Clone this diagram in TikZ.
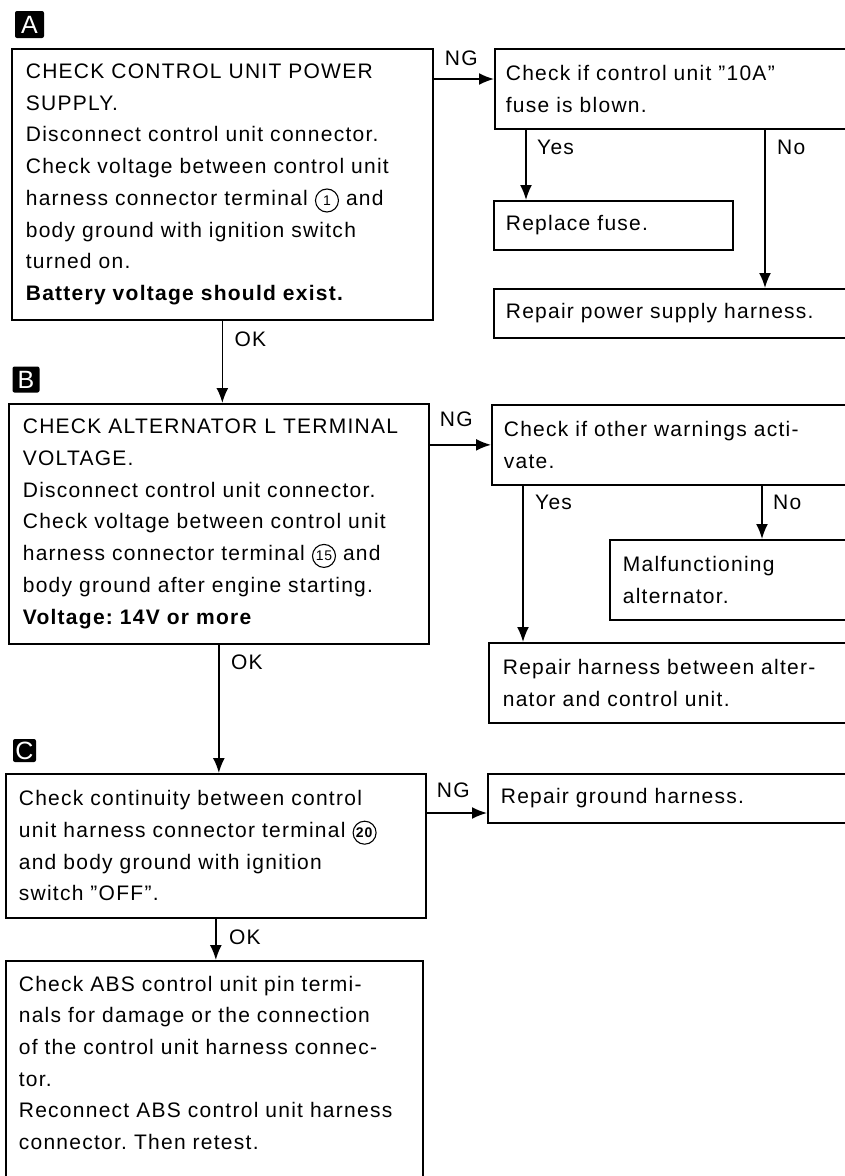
\documentclass[tikz,border=0pt]{standalone}
\usepackage{fontspec}
\setmainfont{Liberation Sans}[LetterSpace=6]
\usepackage{tikz}
\usetikzlibrary{calc, positioning, arrows.meta}

\tikzset{
  box/.style={draw, line width=1.7pt, anchor=north west, align=left, inner xsep=12pt, inner ysep=0pt},
  tag/.style={fill=black, text=white, rounded corners=2pt, inner sep=0pt, font=\fontsize{25}{25}\selectfont},
  lab/.style={anchor=base west, inner sep=0pt},
  go/.style={-{Latex[length=15pt,width=12pt]}, line width=1.7pt},
}
\newcommand{\term}[1]{\tikz[baseline=(tm.base)]\node[circle, draw, line width=1.1pt, inner sep=0pt, minimum size=23pt, font=\fontsize{14}{14}\selectfont] (tm) {#1};}
\frenchspacing

\begin{document}
\begin{tikzpicture}[x=1pt, y=-1pt, font=\fontsize{21}{31.7}\selectfont]
    \useasboundingbox (0,0) rectangle (844,1176);

    % Buoc A
    \node[tag, minimum width=29pt, minimum height=27pt] (tagA) at (29.5,24.5) {A};
    \node[box, inner xsep=14pt, text width=393pt, minimum height=271pt] (chkA) at (11,48)
        {CHECK CONTROL UNIT POWER\\ SUPPLY.\\ Disconnect control unit connector.\\
         Check voltage between control unit\\ harness connector terminal \term{1} and\\
         body ground with ignition switch\\ turned on.\\ \textbf{Battery voltage should exist.}};
    \node[box, inner xsep=11pt, text width=334pt, minimum height=80pt] (fuse) at (494,48)
        {Check if control unit ''10A''\\ fuse is blown.};
    \node[box, text width=215pt, minimum height=49pt] (replace) at (493,200) {Replace fuse.};
    \node[box, text width=333pt, minimum height=49pt] (repair) at (493,288) {Repair power supply harness.};

    \coordinate (ngA) at ([yshift=-31pt]chkA.north east);
    \draw[go] (ngA) -- (ngA -| fuse.west);
    \node[lab] (ngAlab) at ([xshift=11pt,yshift=14pt]ngA) {NG};
    \coordinate (yesA) at ([xshift=32pt]fuse.south west);
    \draw[go] (yesA) -- (yesA |- replace.north);
    \node[lab] (yesAlab) at ([xshift=11pt,yshift=-25pt]yesA) {Yes};
    \coordinate (noA) at ([xshift=271pt]fuse.south west);
    \draw[go] (noA) -- (noA |- repair.north);
    \node[lab] (noAlab) at ([xshift=12pt,yshift=-25pt]noA) {No};

    % Buoc B
    \node[tag, minimum width=27pt, minimum height=26pt] (tagB) at (26,379.5) {B};
    \node[box, inner xsep=14pt, text width=392pt, minimum height=240pt] (chkB) at (8,403)
        {CHECK ALTERNATOR L TERMINAL\\ VOLTAGE.\\ Disconnect control unit connector.\\
         Check voltage between control unit\\ harness connector terminal \term{15} and\\
         body ground after engine starting.\\ \textbf{Voltage: 14V or more}};
    \node[box, text width=335pt, minimum height=80pt] (warn) at (491,404)
        {Check if other warnings acti-\\ vate.};
    \node[box, inner xsep=13pt, text width=215pt, minimum height=80pt] (malf) at (609,539)
        {Malfunctioning\\ alternator.};
    \node[box, inner xsep=14pt, text width=334pt, minimum height=80pt] (harness) at (488,642)
        {Repair harness between alter-\\ nator and control unit.};

    \draw[go] (chkA.south) -- (chkA.south |- chkB.north);
    \node[lab] (okAlab) at ([xshift=12pt,yshift=-26pt]chkA.south) {OK};

    \coordinate (ngB) at (warn.west -| chkB.east);
    \draw[go] (ngB) -- (warn.west);
    \node[lab] (ngBlab) at ([xshift=10pt,yshift=18pt]ngB) {NG};
    \coordinate (yesB) at ([xshift=32pt]warn.south west);
    \draw[go] (yesB) -- (yesB |- harness.north);
    \node[lab] (yesBlab) at ([xshift=12pt,yshift=-24pt]yesB) {Yes};
    \coordinate (noB) at ([xshift=271pt]warn.south west);
    \draw[go] (noB) -- (noB |- malf.north);
    \node[lab] (noBlab) at ([xshift=11pt,yshift=-24pt]noB) {No};

    % Buoc C
    \node[tag, minimum width=23pt, minimum height=23pt] (tagC) at (24.5,750.5) {C};
    \node[box, inner xsep=13pt, text width=394pt, minimum height=144pt] (chkC) at (5,773)
        {Check continuity between control\\ unit harness connector terminal \term{\textbf{20}}\\
         and body ground with ignition\\ switch ''OFF''.};
    \node[box, inner xsep=13pt, text width=337pt, minimum height=49pt] (ground) at (487,773)
        {Repair ground harness.};
    \node[box, inner xsep=13pt, inner ysep=15pt, text width=391pt] (chkD) at (5,960)
        {Check ABS control unit pin termi-\\ nals for damage or the connection\\
         of the control unit harness connec-\\ tor.\\ Reconnect ABS control unit harness\\
         connector. Then retest.\rule[-60pt]{0pt}{60pt}};

    \draw[go] (chkB.south) -- (chkB.south |- chkC.north);
    \node[lab] (okBlab) at ([xshift=12pt,yshift=-25pt]chkB.south) {OK};

    \coordinate (ngC) at ([yshift=-40pt]chkC.north east);
    \draw[go] (ngC) -- (ngC -| ground.west);
    \node[lab] (ngClab) at ([xshift=10pt,yshift=16pt]ngC) {NG};

    \draw[go] (chkC.south) -- (chkC.south |- chkD.north);
    \node[lab] (okClab) at ([xshift=13pt,yshift=-26pt]chkC.south) {OK};
\end{tikzpicture}
\end{document}
